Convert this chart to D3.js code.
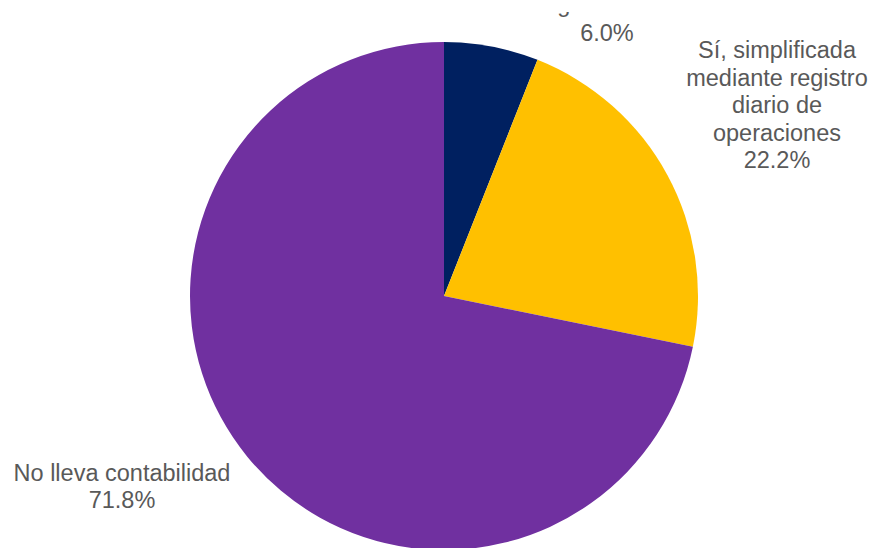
<!DOCTYPE html>
<html>
<head>
<meta charset="utf-8">
<script src="https://cdn.jsdelivr.net/npm/d3@7"></script>
<style>
  html, body { margin: 0; padding: 0; background: #ffffff; }
  svg { display: block; }
  text { font-family: "Liberation Sans", Arial, sans-serif; }
</style>
</head>
<body>
<svg id="chart" width="869" height="548"></svg>
<script>
const categories = [
  "Sí, contabilidad completa según normas",
  "Sí, simplificada mediante registro diario de operaciones",
  "No lleva contabilidad"
];
const values = [6.0, 22.2, 71.8];
const valueLabels = ["6.0%", "22.2%", "71.8%"];
const labelLines = [
  ["Sí, contabilidad completa", "según normas"],
  ["Sí, simplificada", "mediante registro", "diario de", "operaciones"],
  ["No lleva contabilidad"]
];
const colors = ["#002060", "#FFC000", "#7030A0"];

const W = 869, H = 548;
const cx = 444, cy = 296, R = 254;
const svg = d3.select("#chart");

const pie = d3.pie().sort(null).value(d => d).startAngle(0).endAngle(2 * Math.PI);
const arc = d3.arc().innerRadius(0).outerRadius(R);
const arcs = pie(values);

const g = svg.append("g").attr("transform", `translate(${cx},${cy})`);
g.selectAll("path")
  .data(arcs)
  .join("path")
  .attr("d", arc)
  .attr("fill", (d, i) => colors[i]);

// the top of the original image is cut off: the first label is mostly hidden
svg.append("clipPath").attr("id", "clipTop")
  .append("rect").attr("x", 0).attr("y", 12).attr("width", W).attr("height", H);

// label layout: center x, baseline of the last (value) line, line spacing
const labelLayout = [
  { x: 607, y: 41, lh: 29.5 },
  { x: 777, y: 168, lh: 27.5 },
  { x: 122, y: 508, lh: 27 }
];

arcs.forEach((a, i) => {
  const lines = labelLines[i].concat([valueLabels[i]]);
  const n = lines.length;
  const L = labelLayout[i];
  const t = svg.append("text")
    .attr("clip-path", "url(#clipTop)")
    .attr("text-anchor", "middle")
    .attr("font-size", 23.5)
    .attr("fill", "#595959");
  lines.forEach((ln, k) => {
    t.append("tspan")
      .attr("x", L.x)
      .attr("y", L.y - (n - 1 - k) * L.lh)
      .text(ln);
  });
});
</script>
</body>
</html>
